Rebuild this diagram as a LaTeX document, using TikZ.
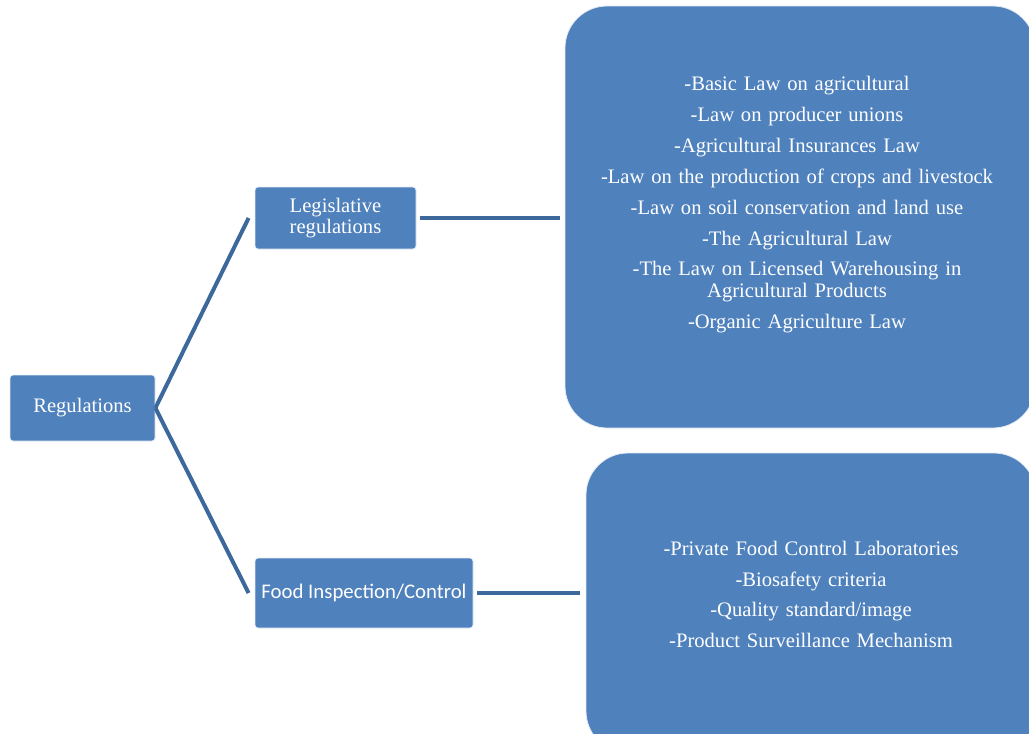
\documentclass[tikz,border=0pt]{standalone}
\usepackage{fontspec}
\setmainfont{Liberation Serif}
\newfontfamily\calibrifont{Carlito}
\definecolor{boxblue}{HTML}{4F81BD}
\definecolor{linkblue}{HTML}{3D689C}
\newcommand\listfontset{\fontsize{20.6}{21.5}\selectfont\spaceskip=0.33em plus 0.1em\relax}
\begin{document}
\begin{tikzpicture}[x=1pt,y=-1pt,
  smallbox/.style={fill=boxblue,draw=white!85!boxblue,line width=0.8pt,rounded corners=3pt,text=white,align=center,inner sep=0pt,font=\fontsize{20.6}{21.5}\selectfont},
  bigbox/.style={fill=boxblue,draw=white!85!boxblue,line width=0.8pt,rounded corners=42pt,inner sep=0pt},
  listtext/.style={text=white,align=center,font=\listfontset},
  link/.style={draw=linkblue,line width=4pt}]
\useasboundingbox (0,0) rectangle (1029,734);
% main boxes
\node[smallbox,minimum width=145pt,minimum height=66pt] (reg) at (82.5,408) {Regulations};
\node[smallbox,minimum width=161pt,minimum height=62pt] (leg) at (335.5,218) {Legislative\\regulations};
\node[smallbox,minimum width=218pt,minimum height=70pt,font=\calibrifont\fontsize{20.8}{21.5}\selectfont] (food) at (364,593) {Food Inspection/Control};
% big boxes
\node[bigbox,minimum width=470pt,minimum height=422pt] (lawbox) at (800,217) {};
\node[bigbox,minimum width=450pt,minimum height=300pt] (foodbox) at (811,603) {};
% texts in big boxes
\node[listtext] (laws) at (797,204.5) {%
-Basic Law on agricultural\\[9.4pt]
-Law on producer unions\\[9.4pt]
-Agricultural Insurances Law\\[9.4pt]
-Law on the production of crops and livestock\\[9.4pt]
-Law on soil conservation and land use\\[9.4pt]
-The Agricultural Law\\[9.4pt]
-The Law on Licensed Warehousing in\\
Agricultural Products\\[9.4pt]
-Organic Agriculture Law};
\node[listtext] (foodlist) at (811,594.5) {%
-Private Food Control Laboratories\\[9.2pt]
-Biosafety criteria\\[9.2pt]
-Quality standard/image\\[9.2pt]
-Product Surveillance Mechanism};
% connectors
\coordinate (v) at (reg.east);
\coordinate (legin) at ([xshift=-6pt]leg.west);
\coordinate (foodin) at ([xshift=-6pt]food.west);
\draw[link] (v) -- (legin);
\draw[link] (v) -- (foodin);
\draw[link] ([xshift=4pt]leg.east) -- ([xshift=-5pt]leg.east -| lawbox.west);
\draw[link] ([xshift=4pt]food.east) -- ([xshift=-6pt]food.east -| foodbox.west);
\end{tikzpicture}
\end{document}
